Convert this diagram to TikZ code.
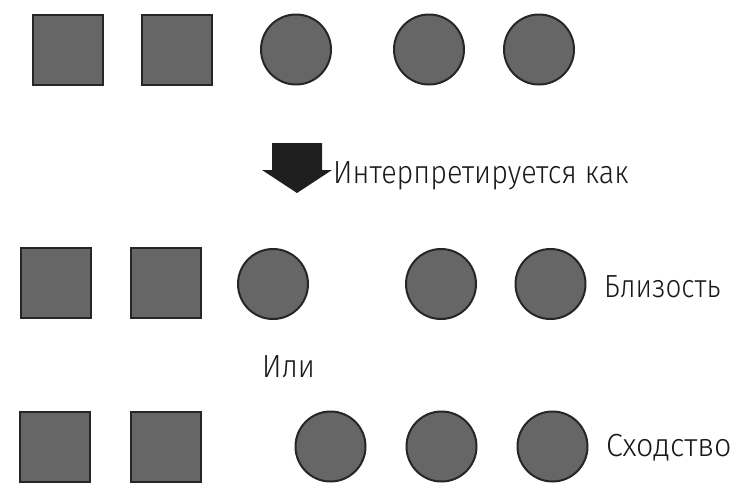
\documentclass[tikz,border=0pt]{standalone}
\usepackage{fontspec}
\setmainfont{Fira Sans Light}
\begin{document}
\begin{tikzpicture}[x=1pt,y=-1pt,
  shp/.style={draw=black!85,line width=2pt,fill=black!60,inner sep=0pt,outer sep=0pt},
  sq/.style={shp,rectangle,minimum width=70pt,minimum height=70pt},
  ci/.style={shp,circle,minimum size=70pt},
  lbl/.style={anchor=base west,inner sep=0pt,font=\fontsize{32}{36}\selectfont,text=black!90}]
\useasboundingbox (0,0) rectangle (744,496);
% row 1
\node[sq] (s11) at (67.5,49.5) {};
\node[sq] (s12) at (177,49.5) {};
\node[ci] (c11) at (296,49.5) {};
\node[ci] (c12) at (429,49.5) {};
\node[ci] (c13) at (539,49.5) {};
% arrow
\fill[black!88] (272,143) -- (322,143) -- (322,170) -- (332,170) -- (297,193) -- (262,170) -- (272,170) -- cycle;
\node[lbl] (t1) at (333,183) {\scalebox{0.9}[1]{Интерпретируется как}};
% row 2
\node[sq] (s21) at (56,283) {};
\node[sq] (s22) at (165.5,283) {};
\node[ci] (c21) at (273,284) {};
\node[ci] (c22) at (441,284) {};
\node[ci] (c23) at (550.5,284) {};
\node[lbl] (t2) at (604,297) {\scalebox{0.87}[1]{Близость}};
\node[lbl] (t3) at (262,377) {\scalebox{0.9}[1]{Или}};
% row 3
\node[sq] (s31) at (55,446.5) {};
\node[sq] (s32) at (165.5,446.5) {};
\node[ci] (c31) at (330.5,446.5) {};
\node[ci] (c32) at (441.5,446.5) {};
\node[ci] (c33) at (552.5,446.5) {};
\node[lbl] (t4) at (606,456) {\scalebox{0.95}[1]{Сходство}};
\end{tikzpicture}
\end{document}
